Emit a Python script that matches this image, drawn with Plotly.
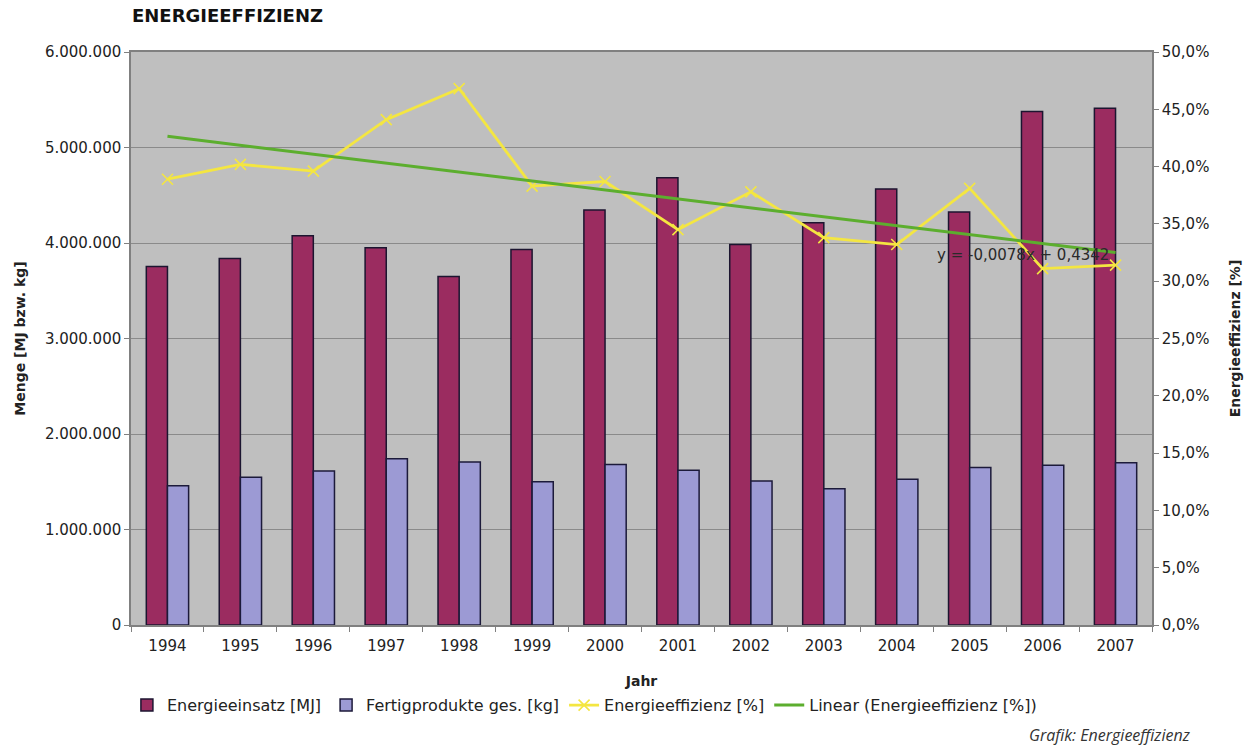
import plotly.graph_objects as go

# Jahre (Kategorien der x-Achse)
jahre = ["1994", "1995", "1996", "1997", "1998", "1999", "2000",
         "2001", "2002", "2003", "2004", "2005", "2006", "2007"]

# Energieeinsatz [MJ]
energieeinsatz = [3754000, 3838000, 4075000, 3951000, 3650000, 3931000, 4345000,
                  4682000, 3983000, 4212000, 4566000, 4325000, 5378000, 5410000]

# Fertigprodukte gesamt [kg]
fertigprodukte = [1459000, 1547000, 1612000, 1740000, 1708000, 1499000, 1680000,
                  1620000, 1507000, 1427000, 1527000, 1648000, 1672000, 1700000]

# Energieeffizienz [%] (als Anteil)
effizienz = [0.389, 0.402, 0.396, 0.441, 0.468, 0.383, 0.387,
             0.345, 0.378, 0.338, 0.332, 0.381, 0.311, 0.314]

# Lineare Trendlinie: y = -0,0078x + 0,4342 (x = 1 .. 14)
trend_steigung = -0.0078
trend_achse = 0.4342
trend = [trend_steigung * (i + 1) + trend_achse for i in range(len(jahre))]

FONT = "DejaVu Sans"
TEXT = "#222222"
GRID = "#8a8a8a"

fig = go.Figure()

fig.add_bar(
    x=jahre, y=energieeinsatz, name="Energieeinsatz [MJ]",
    marker=dict(color="#9b2c60", line=dict(color="#1c1530", width=1.5)),
    yaxis="y",
)
fig.add_bar(
    x=jahre, y=fertigprodukte, name="Fertigprodukte ges. [kg]",
    marker=dict(color="#9c9ad4", line=dict(color="#1c1a3a", width=1.5)),
    yaxis="y",
)
fig.add_scatter(
    x=jahre, y=effizienz, name="Energieeffizienz [%]", mode="lines+markers",
    line=dict(color="#f4e641", width=2.8),
    marker=dict(symbol="x-thin", size=11, line=dict(color="#f4e641", width=1.6)),
    yaxis="y2",
)
fig.add_scatter(
    x=jahre, y=trend, name="Linear (Energieeffizienz [%])", mode="lines",
    line=dict(color="#5cae2e", width=3),
    yaxis="y2",
)

fig.update_layout(
    width=1244, height=747,
    margin=dict(l=131, r=92, t=52, b=122, autoexpand=False),
    paper_bgcolor="white",
    plot_bgcolor="#bfbfbf",
    separators=",.",
    barmode="group",
    bargap=0.42,
    bargroupgap=0,
    font=dict(family=FONT, size=15, color=TEXT),
    showlegend=True,
    legend=dict(
        orientation="h", x=-0.004, y=-0.14, xanchor="left", yanchor="middle",
        font=dict(family=FONT, size=16, color=TEXT),
        bgcolor="rgba(0,0,0,0)", itemwidth=30,
    ),
    xaxis=dict(
        type="category", range=[-0.5, len(jahre) - 0.5], automargin=False,
        tickson="boundaries", ticks="outside", ticklen=5,
        tickcolor="#808080", showline=True, mirror=True, linecolor="#808080",
        linewidth=1.5, showgrid=False, ticklabelstandoff=6,
        tickfont=dict(family=FONT, size=15, color=TEXT),
        title=dict(text="<b>Jahr</b>", font=dict(family=FONT, size=14, color=TEXT), standoff=22),
    ),
    yaxis=dict(
        range=[0, 6000000], dtick=1000000, tickformat=",d", automargin=False,
        ticks="outside", ticklen=5, tickcolor="#808080",
        showline=True, mirror=True, linecolor="#808080", linewidth=1.5,
        showgrid=True, gridcolor=GRID, gridwidth=1, zeroline=False,
        tickfont=dict(family=FONT, size=15, color=TEXT),
        title=dict(text="<b>Menge [MJ bzw. kg]</b>", font=dict(family=FONT, size=14, color=TEXT), standoff=16),
    ),
    yaxis2=dict(
        overlaying="y", side="right", range=[0, 0.5], dtick=0.05, tickformat=".1%",
        automargin=False,
        ticks="outside", ticklen=5, tickcolor="#808080",
        showline=True, linecolor="#808080", linewidth=1.5,
        showgrid=False, zeroline=False,
        tickfont=dict(family=FONT, size=15, color=TEXT),
        title=dict(text="<b>Energieeffizienz [%]</b>", font=dict(family=FONT, size=14, color=TEXT), standoff=22),
    ),
)

# Überschrift
fig.add_annotation(
    text="<b>ENERGIEEFFIZIENZ</b>", xref="paper", yref="paper",
    x=-0.001, y=1.063, xanchor="left", yanchor="middle", showarrow=False,
    font=dict(family=FONT, size=18, color="#111111"),
)

# Gleichung der Trendlinie
fig.add_annotation(
    text=f"y = {trend_steigung:.4f}x + {trend_achse:.4f}".replace(".", ","),
    xref="paper", yref="y2", x=0.874, y=0.3229,
    xanchor="center", yanchor="middle", showarrow=False,
    font=dict(family=FONT, size=15, color="#2a2a2a"),
)

# Quellenangabe
fig.add_annotation(
    text="<i>Grafik: Energieeffizienz</i>", xref="paper", yref="paper",
    x=1.040, y=-0.192, xanchor="right", yanchor="middle", showarrow=False,
    font=dict(family="Open Sans", size=16, color="#333333"),
)

fig.write_html("out.html")
